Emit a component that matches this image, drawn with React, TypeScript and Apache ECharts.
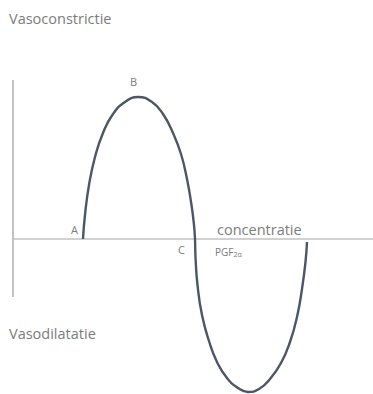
import { useEffect, useRef } from "react";
import * as echarts from "echarts";

// Response curve: concentration (x) against vessel tone (y, + = constriction, - = dilation)
const concentration = [
  7.0, 7.2, 7.6, 8.2, 9.0, 10.0, 11.2, 12.5, 13.9, 15.0, 16.0, 16.8, 17.4, 17.85, 18.1, 18.2,
  18.25, 18.45, 18.9, 19.6, 20.4, 21.4, 22.5, 23.5, 24.6, 25.7, 26.8, 27.7, 28.4, 28.9, 29.25, 29.4,
];
const tone = [
  0, 2.4, 5.4, 8.2, 10.6, 12.5, 13.7, 14.2, 13.7, 12.5, 10.6, 8.5, 6.0, 3.4, 1.4, 0,
  -1.8, -4.6, -7.6, -10.2, -12.3, -13.9, -14.9, -15.3, -15.0, -14.0, -12.4, -10.3, -7.8, -5.0, -2.3, -0.3,
];

// Extent of the drawn vertical axis
const toneAxisTop = 15.9;
const toneAxisBottom = -5.8;

const xRange = [0, 36];
const yRange = [-15.5, 23.9];

const topLabel = "Vasoconstrictie";
const bottomLabel = "Vasodilatatie";
const xLabel = "concentratie";
const pointLabels = ["A", "B", "C"];

export default function App() {
  const ref = useRef<HTMLDivElement>(null);

  useEffect(() => {
    if (!ref.current) return;
    const chart = echarts.init(ref.current, null, { renderer: "svg" });
    const textColor = "#7c7c7c";
    const font = "Open Sans";
    const axisColor = "#c2c2c2";
    chart.setOption({
      animation: false,
      backgroundColor: "#ffffff",
      grid: { left: 13, right: 0, top: 0, bottom: 0 },
      xAxis: {
        type: "value",
        min: xRange[0],
        max: xRange[1],
        axisLine: { show: true, onZero: true, lineStyle: { color: axisColor, width: 1.6 } },
        axisTick: { show: false },
        axisLabel: { show: false },
        splitLine: { show: false },
      },
      yAxis: {
        type: "value",
        min: yRange[0],
        max: yRange[1],
        axisLine: { show: false },
        axisTick: { show: false },
        axisLabel: { show: false },
        splitLine: { show: false },
      },
      series: [
        {
          type: "line",
          data: [
            [0, toneAxisTop],
            [0, toneAxisBottom],
          ],
          symbol: "none",
          clip: false,
          lineStyle: { color: axisColor, width: 2 },
          silent: true,
        },
        {
          type: "line",
          data: concentration.map((c, i) => [c, tone[i]]),
          smooth: 0.5,
          symbol: "none",
          clip: false,
          lineStyle: { color: "#4b5667", width: 2.4 },
        },
      ],
      graphic: [
        { type: "text", x: 9, y: 11, style: { text: topLabel, fill: textColor, font: `14.5px ${font}` } },
        { type: "text", x: 9, y: 326, style: { text: bottomLabel, fill: textColor, font: `14.5px ${font}` } },
        { type: "text", x: 217, y: 222, style: { text: xLabel, fill: textColor, font: `14.5px ${font}` } },
        {
          type: "text",
          x: 215,
          y: 245,
          style: {
            text: "{m|PGF}{s|2α}",
            fill: textColor,
            rich: {
              m: { fontSize: 10, fontFamily: font, fill: textColor },
              s: { fontSize: 7, fontFamily: font, fill: textColor, padding: [6, 0, 0, 0] },
            },
          },
        },
        { type: "text", x: 71, y: 224, style: { text: pointLabels[0], fill: textColor, font: `11px ${font}` } },
        { type: "text", x: 130, y: 76, style: { text: pointLabels[1], fill: textColor, font: `11px ${font}` } },
        { type: "text", x: 178, y: 244, style: { text: pointLabels[2], fill: textColor, font: `11px ${font}` } },
      ],
    });
    return () => chart.dispose();
  }, []);

  return (
    <div
      ref={ref}
      style={{ position: "absolute", left: 0, top: 0, width: 373, height: 394 }}
    />
  );
}
